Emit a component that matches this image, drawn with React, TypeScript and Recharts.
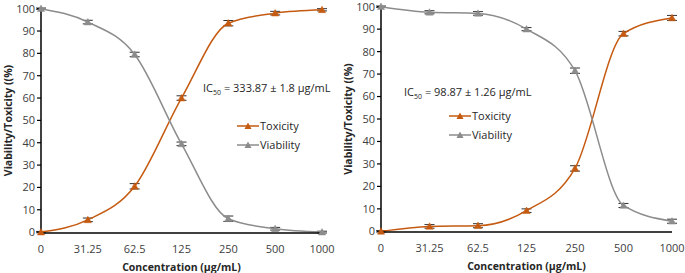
import React from 'react';
import { LineChart, Line, XAxis, YAxis, ErrorBar, Label } from 'recharts';

const concentrations = ['0', '31.25', '62.5', '125', '250', '500', '1000'];
const yTicks = [0, 10, 20, 30, 40, 50, 60, 70, 80, 90, 100];

// left panel
const toxicityA = [0, 5.5, 20.5, 60, 93.5, 98, 99.5];
const toxicityErrA = [0.3, 0.8, 1.2, 1, 1.2, 0.8, 0.5];
const viabilityA = [100, 94, 79.5, 39.5, 6, 1.5, 0];
const viabilityErrA = [0.3, 0.8, 1, 0.8, 1.2, 0.6, 0.4];

// right panel
const toxicityB = [0, 2.2, 2.5, 9.2, 28, 88, 95];
const toxicityErrB = [0.3, 0.8, 0.9, 0.8, 1.2, 1, 1.1];
const viabilityB = [100, 97.5, 97, 90, 71.5, 11.5, 4.5];
const viabilityErrB = [0.3, 0.7, 0.8, 0.7, 1.2, 0.9, 0.9];

const ORANGE = '#C55A11';
const GRAY = '#8C8C8C';
const FONT = 'Open Sans, Noto Sans, sans-serif';

function buildRows(tox: number[], toxErr: number[], via: number[], viaErr: number[]) {
  return concentrations.map((c, i) => ({
    conc: c,
    toxicity: tox[i],
    toxErr: toxErr[i],
    viability: via[i],
    viaErr: viaErr[i],
  }));
}

const triangle = (color: string) => (props: any) => {
  const { cx, cy, index } = props;
  if (cx == null || cy == null) return <g key={index} />;
  const s = 3.6;
  return (
    <polygon
      key={index}
      points={`${cx},${cy - s} ${cx - s},${cy + s * 0.8} ${cx + s},${cy + s * 0.8}`}
      fill={color}
      stroke={color}
      strokeWidth={0.5}
    />
  );
};

function LegendRow({ color, text }: { color: string; text: string }) {
  return (
    <div style={{ display: 'flex', alignItems: 'center', height: 19 }}>
      <svg width={22} height={10}>
        <line x1={0} y1={5} x2={22} y2={5} stroke={color} strokeWidth={1.5} />
        <polygon points="11,1.5 7.5,8 14.5,8" fill={color} />
      </svg>
      <span style={{ marginLeft: 1 }}>{text}</span>
    </div>
  );
}

function Panel(props: {
  width: number;
  rows: any[];
  marginTop: number;
  marginRight: number;
  bottom: number;
  ic50: string;
  icPos: { left: number; top: number };
  legendPos: { left: number; top: number };
}) {
  const { width, rows, marginTop, marginRight, bottom, ic50, icPos, legendPos } = props;
  return (
    <div style={{ position: 'relative', width, height: 273 }}>
      <LineChart
        width={width}
        height={273}
        data={rows}
        margin={{ top: marginTop, right: marginRight, left: 0, bottom }}
      >
        <XAxis
          dataKey="conc"
          tickLine={false}
          axisLine={{ stroke: '#000', strokeWidth: 1.5 }}
          tick={{ fontSize: 11, fill: '#404040', fontFamily: FONT }}
          tickMargin={6}
          height={40}
          interval={0}
        >
          <Label
            value="Concentration (µg/mL)"
            position="insideBottom"
            offset={2}
            style={{ fontSize: 10.5, fontWeight: 700, fill: '#262626', fontFamily: FONT }}
          />
        </XAxis>
        <YAxis
          domain={[0, 100]}
          ticks={yTicks}
          width={41}
          tickSize={4}
          tickLine={{ stroke: '#000', strokeWidth: 1.2 }}
          axisLine={{ stroke: '#000', strokeWidth: 1.5 }}
          tick={{ fontSize: 11, fill: '#404040', fontFamily: FONT }}
          interval={0}
        >
          <Label
            value="Viability/Toxicity ((%)"
            angle={-90}
            position="insideLeft"
            offset={8}
            style={{ fontSize: 10.5, fontWeight: 700, fill: '#262626', fontFamily: FONT, textAnchor: 'middle' }}
          />
        </YAxis>
        <Line
          type="monotone"
          dataKey="toxicity"
          stroke={ORANGE}
          strokeWidth={1.5}
          dot={triangle(ORANGE)}
          activeDot={false}
          isAnimationActive={false}
        >
          <ErrorBar dataKey="toxErr" width={5} stroke="#333" strokeWidth={1} />
        </Line>
        <Line
          type="monotone"
          dataKey="viability"
          stroke={GRAY}
          strokeWidth={1.5}
          dot={triangle(GRAY)}
          activeDot={false}
          isAnimationActive={false}
        >
          <ErrorBar dataKey="viaErr" width={5} stroke="#333" strokeWidth={1} />
        </Line>
      </LineChart>
      <div
        style={{
          position: 'absolute',
          left: icPos.left,
          top: icPos.top,
          fontSize: 11,
          fontFamily: FONT,
          color: '#262626',
          whiteSpace: 'nowrap',
        }}
      >
        IC<sub style={{ fontSize: 7 }}>50</sub> = {ic50}
      </div>
      <div
        style={{
          position: 'absolute',
          left: legendPos.left,
          top: legendPos.top,
          fontSize: 11,
          fontFamily: FONT,
          color: '#262626',
        }}
      >
        <LegendRow color={ORANGE} text="Toxicity" />
        <LegendRow color={GRAY} text="Viability" />
      </div>
    </div>
  );
}

export default function App() {
  const rowsA = buildRows(toxicityA, toxicityErrA, viabilityA, viabilityErrA);
  const rowsB = buildRows(toxicityB, toxicityErrB, viabilityB, viabilityErrB);
  return (
    <div
      style={{
        position: 'absolute',
        left: 0,
        top: 0,
        width: 685,
        height: 273,
        display: 'flex',
        background: '#fff',
      }}
    >
      <Panel
        width={340}
        rows={rowsA}
        marginTop={8}
        marginRight={18}
        bottom={0}
        ic50="333.87 ± 1.8 µg/mL"
        icPos={{ left: 203, top: 80 }}
        legendPos={{ left: 237, top: 116 }}
      />
      <Panel
        width={345}
        rows={rowsB}
        marginTop={6}
        marginRight={13}
        bottom={1}
        ic50="98.87 ± 1.26 µg/mL"
        icPos={{ left: 64, top: 84 }}
        legendPos={{ left: 109, top: 106 }}
      />
    </div>
  );
}
